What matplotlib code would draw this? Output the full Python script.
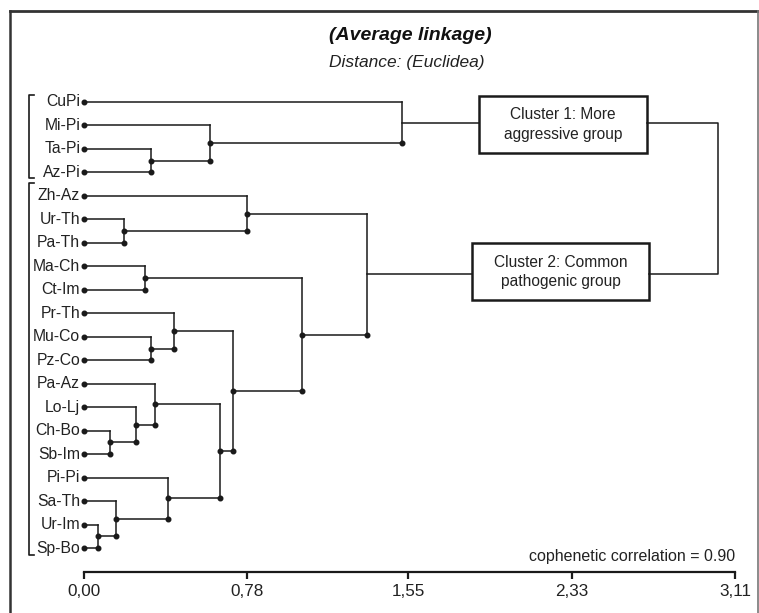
import matplotlib
matplotlib.use("Agg")
import matplotlib.pyplot as plt
from matplotlib.patches import Rectangle
from matplotlib.lines import Line2D

plt.rcParams['font.family'] = ['Liberation Sans', 'DejaVu Sans']

# leaves, top to bottom
labels = ["CuPi", "Mi-Pi", "Ta-Pi", "Az-Pi", "Zh-Az", "Ur-Th", "Pa-Th",
          "Ma-Ch", "Ct-Im", "Pr-Th", "Mu-Co", "Pz-Co", "Pa-Az", "Lo-Lj",
          "Ch-Bo", "Sb-Im", "Pi-Pi", "Sa-Th", "Ur-Im", "Sp-Bo"]

# merges: (child a, child b, height); new nodes numbered from len(labels)
merge_a = [2, 1, 0, 5, 4, 7, 10, 9, 14, 13, 12, 18, 17, 16, 30, 27, 25, 24]
merge_b = [3, 20, 21, 6, 23, 8, 11, 26, 15, 28, 29, 19, 31, 32, 33, 34, 35, 36]
heights = [0.32, 0.60, 1.52, 0.19, 0.78, 0.29, 0.32, 0.43, 0.125, 0.25,
           0.34, 0.067, 0.153, 0.40, 0.65, 0.71, 1.04, 1.35]

ticks = [0.00, 0.78, 1.55, 2.33, 3.11]
tick_labels = ["0,00", "0,78", "1,55", "2,33", "3,11"]

box_texts = ["Cluster 1: More\naggressive group",
             "Cluster 2: Common\npathogenic group"]
coph_text = "cophenetic correlation = 0.90"

W, H = 759, 613
fig = plt.figure(figsize=(W / 100, H / 100), dpi=100)
ax = fig.add_axes([84 / W, 1 - 572 / H, 651 / W, (572 - 90) / H])
ax.set_xlim(0, 3.11)
ax.set_ylim(20.02, -0.511)

lc = '#1a1a1a'
lw = 1.1

# node positions
ypos = {i: float(i) for i in range(len(labels))}
hpos = {i: 0.0 for i in range(len(labels))}
n = len(labels)
roots = []
for k, (a, b, h) in enumerate(zip(merge_a, merge_b, heights)):
    node = n + k
    ya, yb = ypos[a], ypos[b]
    ax.plot([hpos[a], h], [ya, ya], color=lc, lw=lw, clip_on=False)
    ax.plot([hpos[b], h], [yb, yb], color=lc, lw=lw, clip_on=False)
    ax.plot([h, h], [ya, yb], color=lc, lw=lw, clip_on=False)
    ax.plot([h], [max(ya, yb)], 'o', color=lc, ms=3.3, clip_on=False)
    ypos[node] = (ya + yb) / 2
    hpos[node] = h
used = set(merge_a) | set(merge_b)
for node in ypos:
    if node not in used:
        roots.append(node)
    elif node >= n:
        ax.plot([hpos[node]], [ypos[node]], 'o', color=lc, ms=3.3, clip_on=False)

# leaf dots and labels
for i, lab in enumerate(labels):
    ax.plot([0], [i], 'o', color=lc, ms=3.3, clip_on=False)
    ax.text(-0.018, i, lab, ha='right', va='center', fontsize=11.3, color='#222')

# cluster boxes
boxes = [(1.887, -0.256, 2.69, 2.17), (1.854, 6.01, 2.70, 8.44)]
r1, r2 = roots[0], roots[1]
for (x0, y0, x1, y1), txt, r in zip(boxes, box_texts, [r1, r2]):
    ax.add_patch(Rectangle((x0, y0), x1 - x0, y1 - y0, fill=False,
                           ec=lc, lw=1.8, clip_on=False))
    ax.text((x0 + x1) / 2, (y0 + y1) / 2, txt, ha='center', va='center',
            fontsize=11.2, color='#222', linespacing=1.35)
    ax.plot([hpos[r], x0], [ypos[r], ypos[r]], color=lc, lw=lw, clip_on=False)
xr = 3.03
ax.plot([boxes[0][2], xr, xr, boxes[1][2]], [ypos[r1], ypos[r1], ypos[r2], ypos[r2]],
        color=lc, lw=lw, clip_on=False)

# group brackets
for y0, y1 in [(-0.3, 3.24), (3.45, 19.28)]:
    ax.plot([-0.238, -0.265, -0.265, -0.238], [y0, y0, y1, y1],
            color=lc, lw=1.2, clip_on=False)

# axis
for s in ['top', 'right', 'left']:
    ax.spines[s].set_visible(False)
ax.spines['bottom'].set_linewidth(1.6)
ax.spines['bottom'].set_color(lc)
ax.set_yticks([])
ax.set_xticks(ticks)
ax.set_xticklabels(tick_labels)
ax.tick_params(axis='x', direction='out', length=5, width=1.6, color=lc,
               labelsize=12.3, pad=4, labelcolor='#222')

ax.text(3.11, 19.34, coph_text, ha='right', va='center', fontsize=11.5, color='#222')

fig.text(410 / W, 1 - 35 / H, "(Average linkage)", ha='center', va='center',
         fontsize=14, fontweight='bold', fontstyle='italic', color='#111')
fig.text(407 / W, 1 - 63 / H, "Distance: (Euclidea)", ha='center', va='center',
         fontsize=12.5, fontstyle='italic', color='#222')

# outer frame
def px(x, y):
    return x / W, 1 - y / H
for (xa, ya), (xb, yb), c, w in [((10, 11), (758, 11), '#333', 2.0),
                                  ((10, 11), (10, 613), '#333', 1.8),
                                  ((758, 11), (758, 613), '#777', 1.2)]:
    p0, p1 = px(xa, ya), px(xb, yb)
    fig.add_artist(Line2D([p0[0], p1[0]], [p0[1], p1[1]], color=c, lw=w))

fig.savefig("out.png", dpi=100)
